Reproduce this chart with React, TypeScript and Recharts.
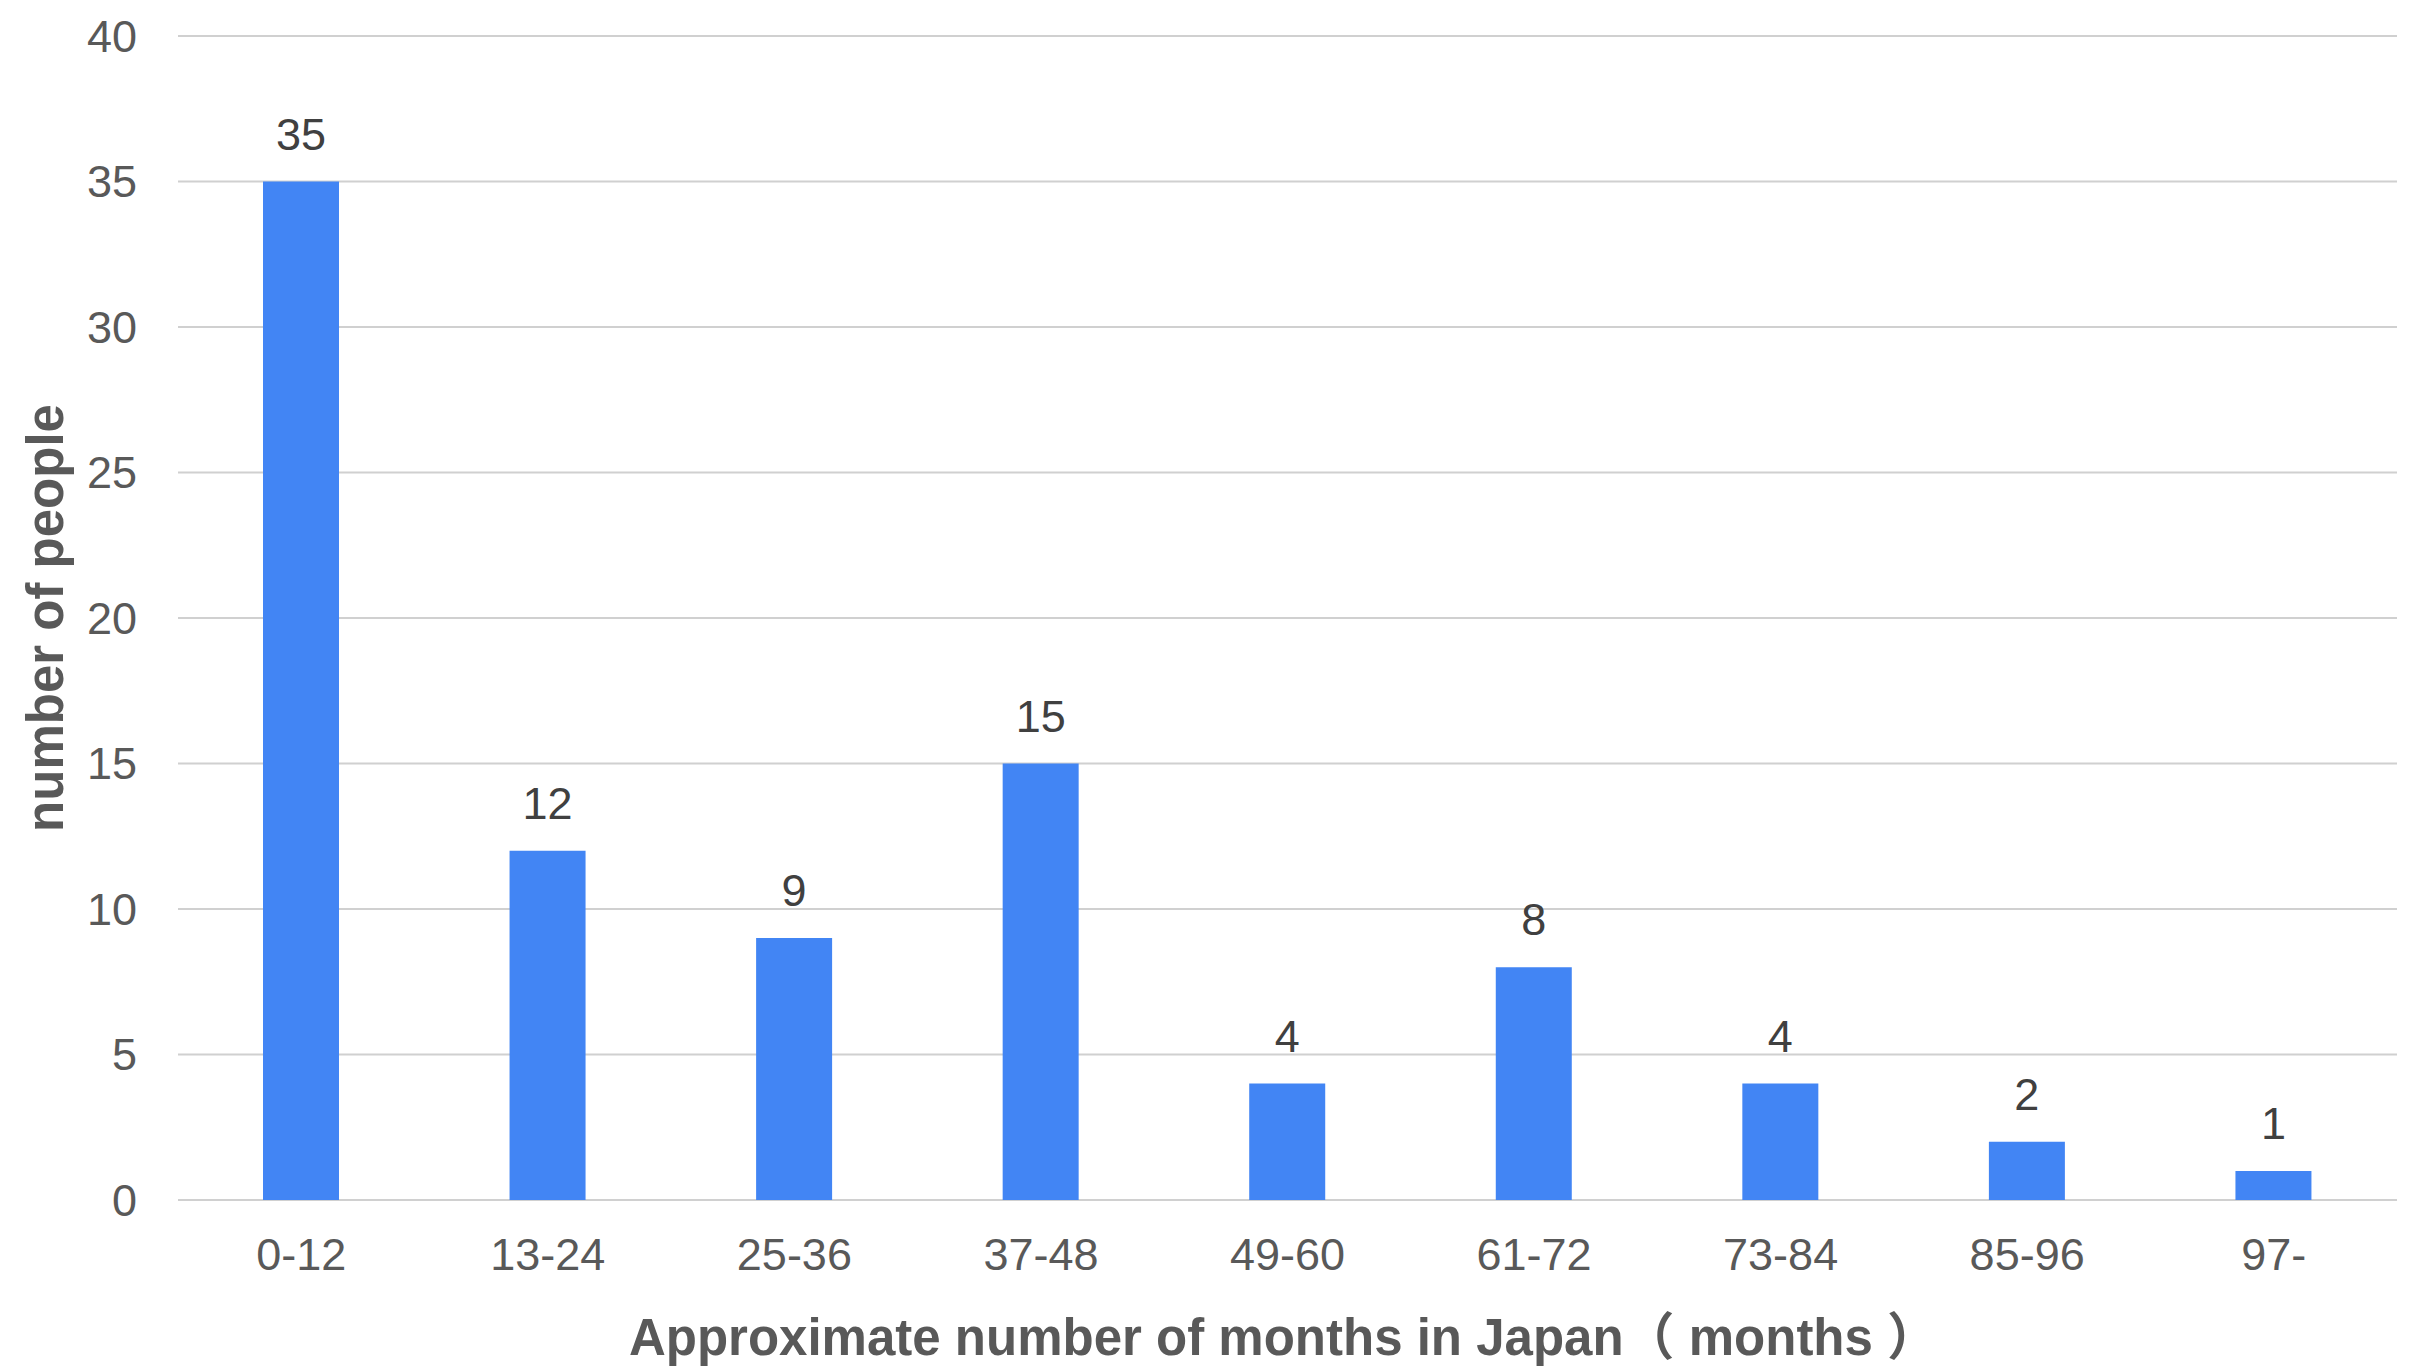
import { BarChart, Bar, XAxis, YAxis, CartesianGrid, LabelList } from 'recharts'

const CATEGORIES = ['0-12', '13-24', '25-36', '37-48', '49-60', '61-72', '73-84', '85-96', '97-']
const PEOPLE = [35, 12, 9, 15, 4, 8, 4, 2, 1]
const Y_TICKS = [0, 5, 10, 15, 20, 25, 30, 35, 40]

const X_TITLE = 'Approximate number of months in Japan（ months ）'
const Y_TITLE = 'number of people'

const FONT = '"Liberation Sans", Arial, "Noto Sans CJK JP", sans-serif'
const TEXT = '#595959'

const data = CATEGORIES.map((name, i) => ({ name, people: PEOPLE[i] }))

function YTitle(props: any) {
  const vb = props.viewBox ?? { x: 0, y: 36, width: 178, height: 1164 }
  const cx = 63
  const cy = vb.y + vb.height / 2
  return (
    <text
      x={cx}
      y={cy}
      transform={`rotate(-90, ${cx}, ${cy})`}
      textAnchor="middle"
      fontFamily={FONT}
      fontSize={51}
      fontWeight="bold"
      fill={TEXT}
    >
      {Y_TITLE}
    </text>
  )
}

function XTitle(props: any) {
  const vb = props.viewBox ?? { x: 178, y: 1200, width: 2219, height: 130 }
  return (
    <text
      x={vb.x + vb.width / 2 - 4}
      y={1355}
      textAnchor="middle"
      fontFamily={FONT}
      fontSize={51}
      fontWeight="bold"
      fill={TEXT}
    >
      {X_TITLE}
    </text>
  )
}

export default function App() {
  return (
    <div style={{ position: 'absolute', left: 0, top: 0, background: '#fff' }}>
      <BarChart
        width={2413}
        height={1368}
        data={data}
        margin={{ top: 36, right: 16, bottom: 38, left: 0 }}
        barSize={76}
      >
        <CartesianGrid vertical={false} stroke="#d0d0d0" strokeWidth={2} />
        <XAxis
          dataKey="name"
          height={130}
          axisLine={false}
          tickLine={false}
          tickSize={0}
          tickMargin={38}
          tick={{ fontSize: 45, fill: TEXT, fontFamily: FONT }}
          interval={0}
          label={{ content: XTitle }}
        />
        <YAxis
          width={178}
          domain={[0, 40]}
          ticks={Y_TICKS}
          axisLine={false}
          tickLine={false}
          tickSize={0}
          tickMargin={41}
          tick={{ fontSize: 45, fill: TEXT, fontFamily: FONT }}
          label={{ content: YTitle }}
        />
        <Bar dataKey="people" fill="#4285f4" isAnimationActive={false}>
          <LabelList
            dataKey="people"
            position="top"
            offset={32}
            fill="#404040"
            fontSize={45}
            fontFamily={FONT}
          />
        </Bar>
      </BarChart>
    </div>
  )
}
